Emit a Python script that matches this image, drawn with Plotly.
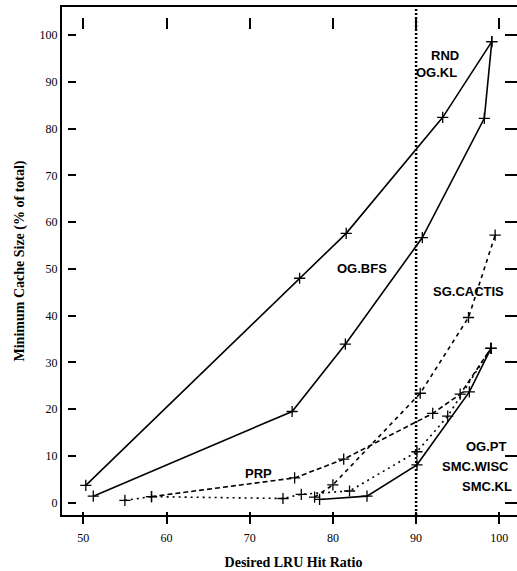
import plotly.graph_objects as go

# ---------------- data ----------------
hit_rnd = [50.3, 76.0, 81.6, 93.2, 99.1]
size_rnd = [3.7, 48.0, 57.6, 82.4, 98.6]

hit_bfs = [51.2, 75.1, 81.5, 90.75, 98.2, 99.1]
size_bfs = [1.4, 19.5, 33.9, 56.7, 82.2, 98.6]

hit_cactis = [77.8, 80.0, 90.5, 96.3, 99.5]
size_cactis = [1.2, 3.8, 23.4, 39.6, 57.2]

hit_prp = [58.2, 75.4, 81.3, 92.0, 95.3, 99.0]
size_prp = [1.3, 5.3, 9.3, 19.1, 23.2, 33.0]

hit_wisc = [55.0, 58.2, 74.0, 76.2, 82.0, 90.1, 93.8, 99.0]
size_wisc = [0.5, 1.3, 0.9, 1.8, 2.5, 10.9, 18.5, 33.0]

hit_kl = [78.4, 84.1, 90.1, 96.4, 99.0]
size_kl = [0.7, 1.4, 8.1, 23.7, 33.0]

x_ticks = [50, 60, 70, 80, 90, 100]
y_ticks = [0, 10, 20, 30, 40, 50, 60, 70, 80, 90, 100]
THRESHOLD = 90

label_text = ["RND", "OG.KL", "OG.BFS", "SG.CACTIS", "PRP", "OG.PT", "SMC.WISC", "SMC.KL"]
label_x = [93.45, 92.5, 83.5, 96.3, 71.0, 98.5, 97.1, 98.5]
label_y = [95.7, 92.1, 50.1, 45.1, 6.3, 12.0, 7.8, 3.4]

# plot frame runs past the right edge of the window (as in the scanned original)
XR = [47.44, 103.09]
YR = [-2.63, 106.0]

series = [
    (hit_rnd, size_rnd, "solid"),
    (hit_bfs, size_bfs, "solid"),
    (hit_cactis, size_cactis, "4px,4px"),
    (hit_prp, size_prp, "5px,3px"),
    (hit_wisc, size_wisc, "2px,4px"),
    (hit_kl, size_kl, "solid"),
]

fig = go.Figure()
for xs, ys, dash in series:
    fig.add_trace(go.Scatter(
        x=xs, y=ys, mode="lines+markers",
        line=dict(color="black", width=1.6, dash=dash),
        marker=dict(symbol="cross-thin", size=8, line=dict(width=1.3, color="black")),
        showlegend=False, hoverinfo="skip",
    ))

# empty traces so the decorative tick axes are drawn
fig.add_trace(go.Scatter(x=[], y=[], xaxis="x2", yaxis="y", showlegend=False))
fig.add_trace(go.Scatter(x=[], y=[], xaxis="x3", yaxis="y", showlegend=False))
fig.add_trace(go.Scatter(x=[], y=[], xaxis="x", yaxis="y2", showlegend=False))
fig.add_trace(go.Scatter(x=[], y=[], xaxis="x", yaxis="y3", showlegend=False))

fig.add_vline(x=THRESHOLD, line=dict(color="black", width=2.5, dash="2px,2px"))

for t, ax, ay in zip(label_text, label_x, label_y):
    fig.add_annotation(x=ax, y=ay, text="<b>%s</b>" % t, showarrow=False,
                       font=dict(family="Liberation Sans", size=13, color="black"))

serif = "Liberation Serif"
common_off = dict(showgrid=False, zeroline=False, showticklabels=False, showline=False,
                  automargin=False)

fig.update_layout(
    width=525, height=571,
    margin=dict(l=62, r=0, t=7, b=56, autoexpand=False),
    plot_bgcolor="white", paper_bgcolor="white",
    showlegend=False,
    xaxis=dict(
        range=XR, tickvals=x_ticks, ticks="outside", ticklen=7, tickwidth=2, tickcolor="black",
        showline=True, mirror=True, linecolor="black", linewidth=2,
        showgrid=False, zeroline=False, automargin=False, ticklabelstandoff=4,
        tickfont=dict(family=serif, size=12, color="black"),
        title=dict(text="<b>Desired LRU Hit Ratio</b>", standoff=13,
                   font=dict(family=serif, size=14, color="black")),
    ),
    yaxis=dict(
        range=YR, tickvals=y_ticks, ticks="",
        showline=True, linecolor="black", linewidth=2,
        showgrid=False, zeroline=False, ticklabelstandoff=0, automargin=False,
        tickfont=dict(family=serif, size=12, color="black"),
        title=dict(text="<b>Minimum Cache Size (% of total)</b>", standoff=12,
                   font=dict(family=serif, size=14, color="black")),
    ),
    xaxis2=dict(overlaying="x", anchor="free", position=0.980, side="top", range=XR,
                tickvals=x_ticks, ticks="inside", ticklen=11, tickwidth=2, tickcolor="black",
                **common_off),
    xaxis3=dict(overlaying="x", anchor="y", side="bottom", range=XR,
                tickvals=x_ticks, ticks="inside", ticklen=3, tickwidth=2, tickcolor="black",
                **common_off),
    yaxis2=dict(overlaying="y", anchor="free", position=0.011, side="left", range=YR,
                tickvals=y_ticks, ticks="inside", ticklen=8, tickwidth=2, tickcolor="black",
                **common_off),
    yaxis3=dict(overlaying="y", anchor="free", position=0.9827, side="right", range=YR,
                tickvals=y_ticks, ticks="inside", ticklen=12, tickwidth=2, tickcolor="black",
                **common_off),
)

fig.write_html("out.html", config={"displayModeBar": False},
               post_script="document.body.style.margin='0px';document.body.style.overflow='hidden';")
